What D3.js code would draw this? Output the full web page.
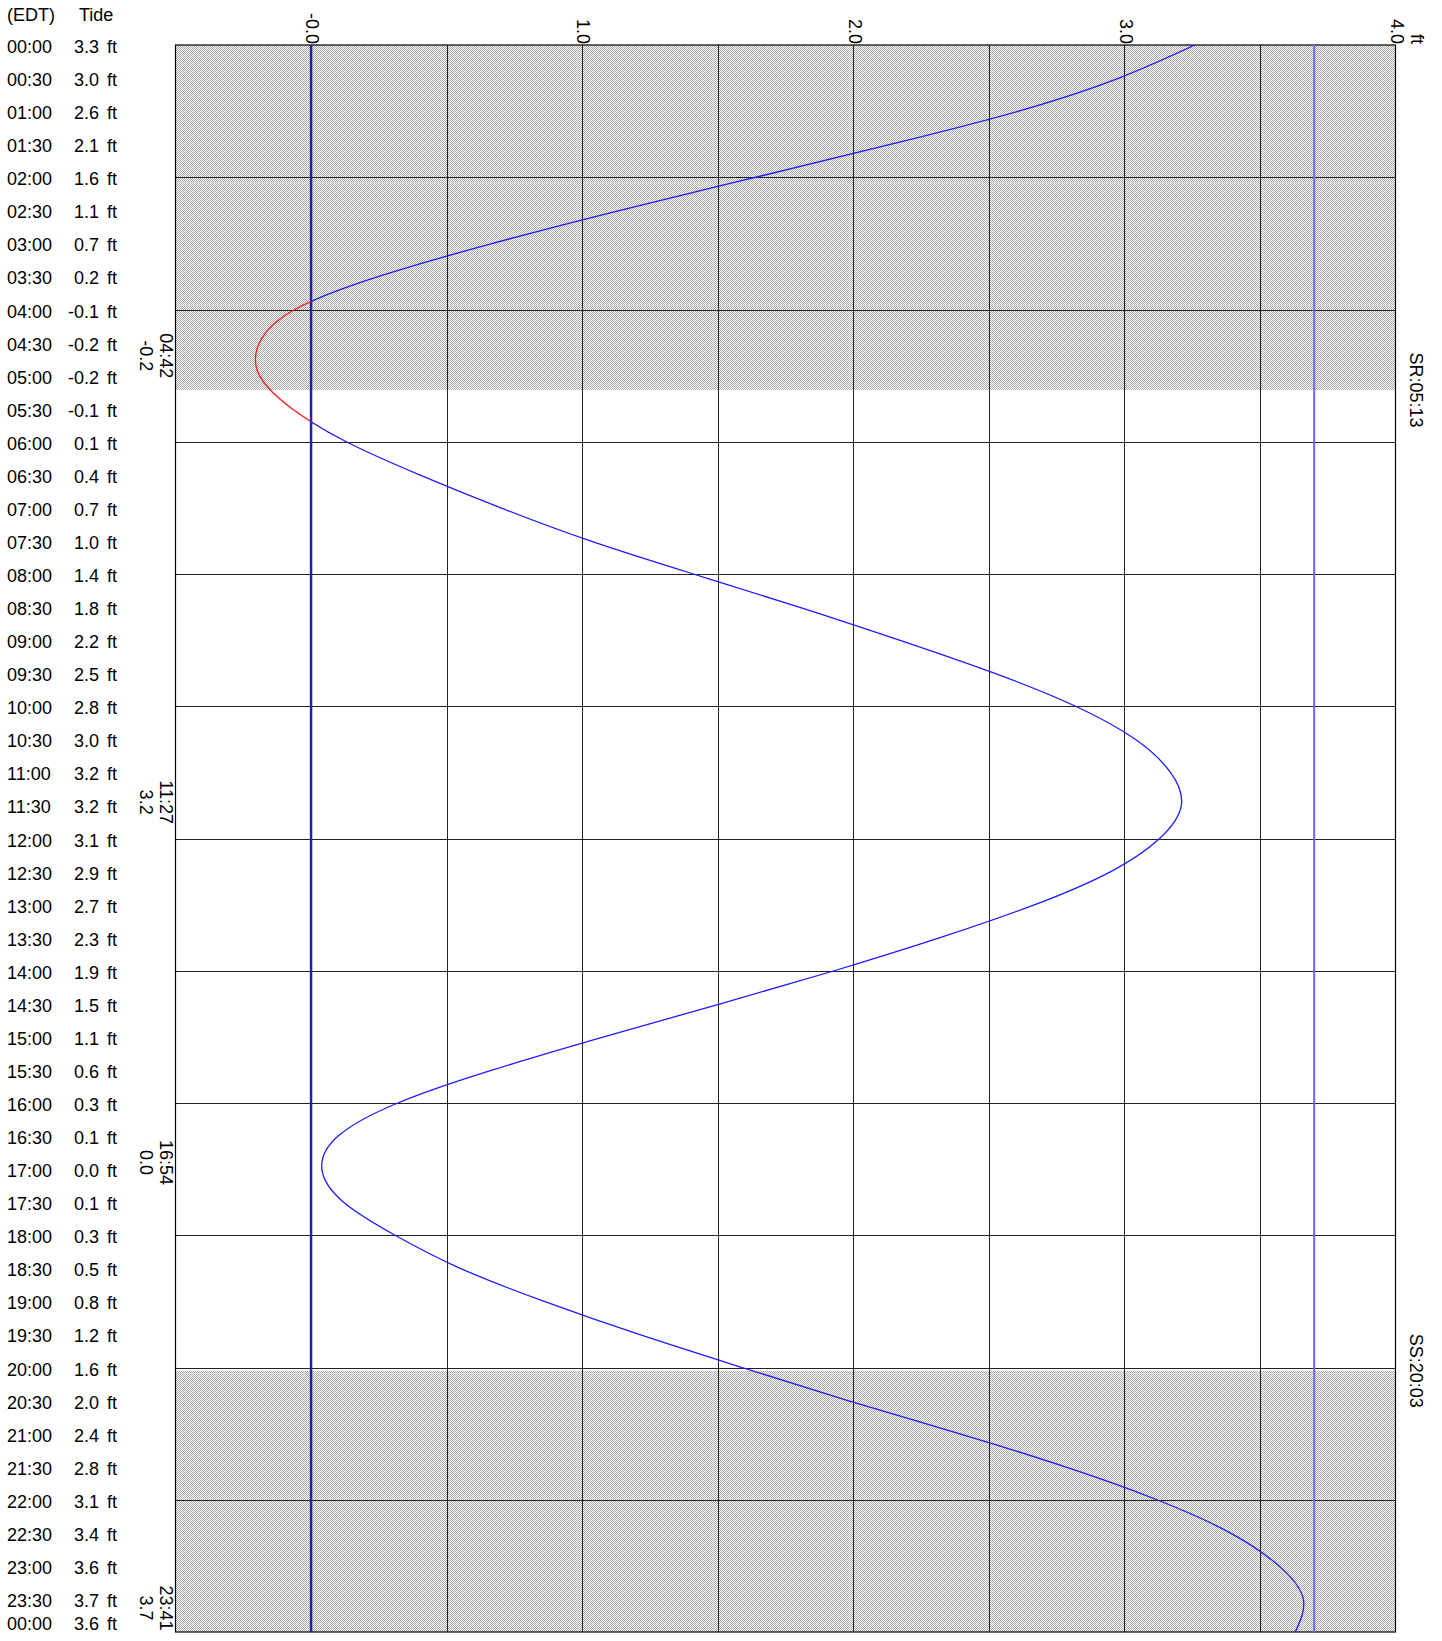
<!DOCTYPE html>
<html>
<head>
<meta charset="utf-8">
<script src="https://cdn.jsdelivr.net/npm/d3@7"></script>
<style>
  body { margin: 0; background: #fff; }
  text { font-family: "Liberation Sans", Arial, sans-serif; }
</style>
</head>
<body>
<div id="div_chart"></div>
<script>
// Table rows (time, tide as printed)
var tableTimes = ["00:00","00:30","01:00","01:30","02:00","02:30","03:00","03:30","04:00","04:30",
    "05:00","05:30","06:00","06:30","07:00","07:30","08:00","08:30","09:00","09:30",
    "10:00","10:30","11:00","11:30","12:00","12:30","13:00","13:30","14:00","14:30",
    "15:00","15:30","16:00","16:30","17:00","17:30","18:00","18:30","19:00","19:30",
    "20:00","20:30","21:00","21:30","22:00","22:30","23:00","23:30","00:00"];
var tableTides = ["3.3","3.0","2.6","2.1","1.6","1.1","0.7","0.2","-0.1","-0.2",
    "-0.2","-0.1","0.1","0.4","0.7","1.0","1.4","1.8","2.2","2.5",
    "2.8","3.0","3.2","3.2","3.1","2.9","2.7","2.3","1.9","1.5",
    "1.1","0.6","0.3","0.1","0.0","0.1","0.3","0.5","0.8","1.2",
    "1.6","2.0","2.4","2.8","3.1","3.4","3.6","3.7","3.6"];

// Curve values, every half hour (hours 0..24)
var curveHours = d3.range(0, 24.5, 0.5);
var curveFeet = [3.26,2.98,2.61,2.14,1.64,1.14,0.67,0.25,-0.06,-0.19,
    -0.19,-0.07,0.13,0.40,0.70,1.03,1.41,1.80,2.17,2.52,
    2.82,3.04,3.17,3.21,3.13,2.95,2.67,2.32,1.93,1.51,
    1.08,0.67,0.32,0.10,0.04,0.12,0.31,0.55,0.86,1.21,
    1.59,1.98,2.39,2.78,3.12,3.39,3.57,3.66,3.63];

// High / low water
var extremeHours = [4.7, 11.45, 16.9, 23.683];
var extremeTimes = ["04:42", "11:27", "16:54", "23:41"];
var extremeLabels = ["-0.2", "3.2", "0.0", "3.7"];

// Sun
var sunHours = [5.2167, 20.05];
var sunLabels = ["SR:05:13", "SS:20:03"];

// Axis ticks
var tickFeet = [0, 1, 2, 3, 4];
var tickLabels = ["-0.0", "1.0", "2.0", "3.0", "4.0"];
var gridFeet = [0.5, 1, 1.5, 2, 2.5, 3, 3.5];
var gridHours = [2, 4, 6, 8, 10, 12, 14, 16, 18, 20, 22];
var maxLineFeet = 3.7;

var svgWidth = 1442, svgHeight = 1641;
var plot = {left: 175.5, right: 1395.5, top: 45, bottom: 1632};
var fontSize = 18;

var svg = d3.select("#div_chart").append("svg")
    .attr("width", svgWidth)
    .attr("height", svgHeight);

var x = d3.scaleLinear().domain([-0.5, 4.0]).range([plot.left, plot.right]);
var y = d3.scaleLinear().domain([0, 24]).range([plot.top, plot.bottom]);

// stipple pattern for night
var defs = svg.append("defs");
var pat = defs.append("pattern")
    .attr("id", "night")
    .attr("patternUnits", "userSpaceOnUse")
    .attr("width", 2).attr("height", 2);
pat.append("rect").attr("width", 2).attr("height", 2).attr("fill", "#ffffff");
pat.append("rect").attr("x", 0).attr("y", 0).attr("width", 1).attr("height", 1).attr("fill", "#a8a8a8");
pat.append("rect").attr("x", 1).attr("y", 1).attr("width", 1).attr("height", 1).attr("fill", "#a8a8a8");

defs.append("clipPath").attr("id", "clipNeg").append("rect")
    .attr("x", plot.left).attr("y", plot.top)
    .attr("width", x(0) - plot.left).attr("height", plot.bottom - plot.top);
defs.append("clipPath").attr("id", "clipPos").append("rect")
    .attr("x", x(0)).attr("y", plot.top)
    .attr("width", plot.right - x(0)).attr("height", plot.bottom - plot.top);

// night bands
var nights = [[0, sunHours[0]], [sunHours[1], 24]];
svg.selectAll("nightRect")
    .data(nights)
    .enter().append("rect")
    .attr("x", plot.left)
    .attr("y", d => y(d[0]))
    .attr("width", plot.right - plot.left)
    .attr("height", d => y(d[1]) - y(d[0]))
    .attr("fill", "url(#night)");

// grid
svg.selectAll("vGrid")
    .data(gridFeet)
    .enter().append("line")
    .attr("x1", d => Math.round(x(d)) + 0.5).attr("x2", d => Math.round(x(d)) + 0.5)
    .attr("y1", plot.top).attr("y2", plot.bottom)
    .attr("stroke", "#222").attr("stroke-width", 1);
svg.selectAll("hGrid")
    .data(gridHours)
    .enter().append("line")
    .attr("x1", plot.left).attr("x2", plot.right)
    .attr("y1", d => Math.round(y(d)) + 0.5).attr("y2", d => Math.round(y(d)) + 0.5)
    .attr("stroke", "#222").attr("stroke-width", 1);

// frame
svg.append("rect")
    .attr("x", plot.left).attr("y", plot.top)
    .attr("width", plot.right - plot.left).attr("height", plot.bottom - plot.top)
    .attr("fill", "none").attr("stroke", "#000").attr("stroke-width", 1.2);

// zero line and max line
svg.append("line")
    .attr("x1", x(0)).attr("x2", x(0)).attr("y1", plot.top).attr("y2", plot.bottom)
    .attr("stroke", "#2020a8").attr("stroke-width", 2.5);
svg.append("line")
    .attr("x1", x(maxLineFeet)).attr("x2", x(maxLineFeet)).attr("y1", plot.top).attr("y2", plot.bottom)
    .attr("stroke", "#6a6aff").attr("stroke-width", 2);

// tide curve: red below zero, blue above
var pts = curveHours.map((h, i) => ({h: h, v: curveFeet[i]}));

var line = d3.line()
    .x(d => x(d.v))
    .y(d => y(d.h))
    .curve(d3.curveNatural);

svg.append("path").datum(pts)
    .attr("d", line)
    .attr("fill", "none").attr("stroke", "#1c1cff").attr("stroke-width", 1.3)
    .attr("clip-path", "url(#clipPos)");
svg.append("path").datum(pts)
    .attr("d", line)
    .attr("fill", "none").attr("stroke", "#ff1c1c").attr("stroke-width", 1.3)
    .attr("clip-path", "url(#clipNeg)");

// top tick labels (rotated)
svg.selectAll("tickLabel")
    .data(tickFeet)
    .enter().append("text")
    .attr("transform", d => "translate(" + x(d) + "," + (plot.top - 1) + ") rotate(90)")
    .attr("text-anchor", "end")
    .attr("dominant-baseline", "middle")
    .attr("font-size", fontSize)
    .text((d, i) => tickLabels[i]);
svg.append("text")
    .attr("transform", "translate(" + (plot.right + 20) + "," + (plot.top - 1) + ") rotate(90)")
    .attr("text-anchor", "end")
    .attr("dominant-baseline", "middle")
    .attr("font-size", fontSize)
    .text("ft");

// left table
svg.append("text").attr("x", 7).attr("y", 20.5).attr("font-size", fontSize).text("(EDT)");
svg.append("text").attr("x", 79).attr("y", 20.5).attr("font-size", fontSize).text("Tide");
var rows = svg.selectAll("tableRow")
    .data(tableTimes)
    .enter().append("g")
    .attr("transform", (d, i) => "translate(0," + Math.min(y(i * 0.5) + 8, 1630) + ")")
    .attr("font-size", fontSize);
rows.append("text").attr("x", 7).text(d => d);
rows.append("text").attr("x", 99).attr("text-anchor", "end").text((d, i) => tableTides[i]);
rows.append("text").attr("x", 107).text("ft");

// extreme labels (rotated, two lines)
var ext = svg.selectAll("extLabel")
    .data(extremeHours)
    .enter().append("text")
    .attr("transform", d => "translate(" + 164.5 + "," + Math.min(y(d), plot.bottom - 24) + ") rotate(90)")
    .attr("text-anchor", "middle")
    .attr("font-size", fontSize);
ext.append("tspan").attr("x", 0).attr("y", 0).attr("dominant-baseline", "middle")
    .text((d, i) => extremeTimes[i]);
ext.append("tspan").attr("x", 0).attr("y", 19.5).attr("dominant-baseline", "middle")
    .text((d, i) => extremeLabels[i]);

// sunrise / sunset labels
svg.selectAll("sunLabel")
    .data(sunHours)
    .enter().append("text")
    .attr("transform", d => "translate(" + 1415 + "," + y(d) + ") rotate(90)")
    .attr("text-anchor", "middle")
    .attr("dominant-baseline", "middle")
    .attr("font-size", fontSize)
    .text((d, i) => sunLabels[i]);
</script>
</body>
</html>
